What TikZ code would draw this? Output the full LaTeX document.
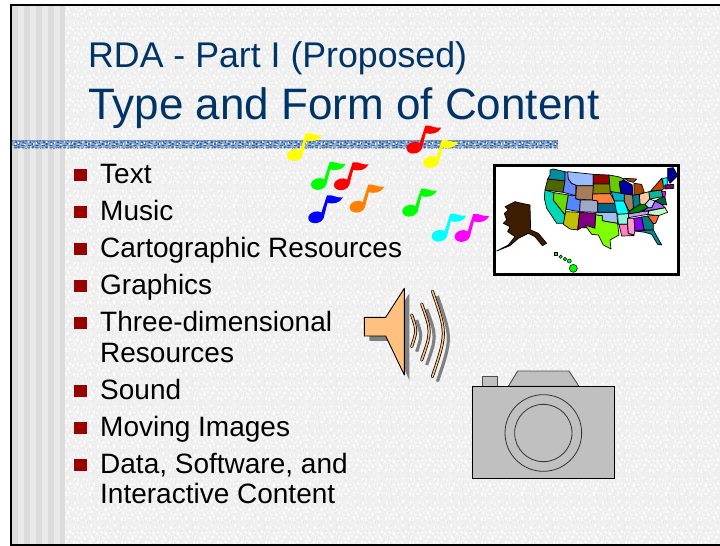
\documentclass[tikz,border=0pt]{standalone}
\usepackage{fontspec}
\setmainfont{Liberation Sans}
\usetikzlibrary{patterns}
\definecolor{titleblue}{HTML}{003366}
\definecolor{bulletred}{HTML}{990000}
\definecolor{pagegrey}{HTML}{F0F0F0}
\definecolor{stripedark}{HTML}{DCDCDC}
\definecolor{stripelight}{HTML}{E9E9E9}
\definecolor{speaker}{HTML}{FFC080}
\definecolor{camgrey}{HTML}{C0C0C0}
\definecolor{bandbase}{HTML}{8FACD0}
\definecolor{banddark}{HTML}{285A96}
\definecolor{noteyellow}{HTML}{FFFF00}
\definecolor{notered}{HTML}{FF0000}
\definecolor{notegreen}{HTML}{00FF00}
\definecolor{noteorange}{HTML}{FF8000}
\definecolor{noteblue}{HTML}{0000FF}
\definecolor{notecyan}{HTML}{00FFFF}
\definecolor{notemagenta}{HTML}{FF00FF}
\newcommand{\St}[2]{\definecolor{tmpc}{HTML}{#1}\draw[st=tmpc] #2 -- cycle;}
\pgfdeclarepatternformonly{specka}{\pgfpointorigin}{\pgfpoint{24pt}{24pt}}{\pgfpoint{24pt}{24pt}}{%
  \foreach \a/\b/\c/\d in {1/2/2/3,5/1/1/4,9/3/2/2,14/0/1/3,18/2/2/4,22/5/1/2,3/8/1/3,7/7/2/2,12/6/2/4,16/9/1/2,20/8/2/3,0/12/2/2,5/13/1/3,9/11/2/4,14/13/2/2,18/12/1/4,22/14/2/2,2/18/2/3,6/17/1/4,11/19/2/2,15/17/1/3,19/20/2/3}{%
    \pgfpathrectangle{\pgfpoint{\a pt}{\b pt}}{\pgfpoint{\c pt}{\d pt}}\pgfusepath{fill}}%
}
\pgfdeclarepatternformonly{speckb}{\pgfpointorigin}{\pgfpoint{18pt}{18pt}}{\pgfpoint{18pt}{18pt}}{%
  \foreach \a/\b/\c/\d in {3/0/1/2,8/2/1/1,13/1/1/3,0/6/1/2,6/5/2/1,11/7/1/2,16/5/1/2,3/11/1/2,9/12/1/1,14/10/1/3,1/15/2/1,7/15/1/2,12/16/1/1}{%
    \pgfpathrectangle{\pgfpoint{\a pt}{\b pt}}{\pgfpoint{\c pt}{\d pt}}\pgfusepath{fill}}%
}
\pgfdeclarepatternformonly{weave}{\pgfpointorigin}{\pgfpoint{14pt}{8pt}}{\pgfpoint{14pt}{8pt}}{%
  \foreach \a/\b/\c/\d in {0/0/3/1,4/1/2/2,8/0/3/1,11/2/2/1,1/3/2/2,5/4/3/1,9/3/2/2,12/5/2/1,0/6/3/1,4/6/2/2,8/6/3/1}{%
    \pgfpathrectangle{\pgfpoint{\a pt}{\b pt}}{\pgfpoint{\c pt}{\d pt}}\pgfusepath{fill}}%
}
\tikzset{
  bullettext/.style={anchor=base west,inner sep=0pt,font=\fontsize{28}{28}\selectfont,text=black},
  bulletbox/.style={anchor=center,inner sep=0pt,minimum size=12.5pt,fill=bulletred,draw=none},
  titleone/.style={anchor=base west,inner sep=0pt,text=titleblue,font=\fontsize{35.7}{36}\selectfont},
  titletwo/.style={anchor=base west,inner sep=0pt,text=titleblue,font=\fontsize{44}{44}\selectfont},
  st/.style={draw=black,line width=0.7pt,line join=round,fill=#1},
  musicnote/.pic={
    \fill[pic actions,rotate around={12:(0,0)}] (0,0) ellipse [x radius=7.8,y radius=5.8];
    \fill[pic actions] (4.5,-2) -- (11,-22) .. controls (17,-23) and (20,-19) .. (27,-20)
      .. controls (24,-14) and (17,-13) .. (11.5,-14.5) -- (7.5,1) -- cycle;
  }
}
\begin{document}
\begin{tikzpicture}[x=1pt,y=-1pt]
\useasboundingbox (0,0) rectangle (720,546);
\fill[white] (0,0) rectangle (720,546);
% page
\fill[pagegrey] (11,5) rectangle (720,545);
\fill[pattern=specka,pattern color=white] (65,5) rectangle (720,545);
\fill[pattern=speckb,pattern color=black!9] (65,5) rectangle (720,545);
% side stripes
\fill[stripelight] (12,6) rectangle (65,544);
\foreach \x/\xe in {12/18,24/30,36/42,48/54,60/65}{\fill[stripedark] (\x,6) rectangle (\xe,544);}
% weave band
\fill[bandbase] (12,140) rectangle (558,148);
\fill[pattern=weave,pattern color=banddark] (12,140) rectangle (558,148);
\fill[pattern=speckb,pattern color=white] (12,140) rectangle (558,148);
% frame
\draw[black,line width=2pt] (720,5) -- (11,5) -- (11,545) -- (720,545);
% titles
\node[titleone] (t1) at (88,67) {RDA - Part I (Proposed)};
\node[titletwo] (t2) at (88,119) {Type and Form of Content};
% bullets
\foreach \n/\y/\txt in {a/183/Text,b/220/Music,c/257/Cartographic Resources,d/294/Graphics,e/331/Three-dimensional,g/399/Sound,h/436/Moving Images,i/473/{Data, Software, and}}{
  \node[bulletbox] (box\n) at (80.5,\y-8) {};
  \node[bullettext] (item\n) at (100,\y) {\txt};
}
\node[bullettext] (itemf) at (100,362) {Resources};
\node[bullettext] (itemj) at (100,503) {Interactive Content};
% notes
\foreach \px/\py/\col in {294.7/155/noteyellow,414.3/147.7/notered,431/162/noteyellow,318.7/184/notegreen,341.7/184.3/notered,357.3/206.7/noteorange,316/217.3/noteblue,410/210.7/notegreen,439.3/235.7/notecyan,462.3/236/notemagenta}{
  \path[fill=\col] (\px,\py) pic {musicnote};
}
% map
\begin{scope}[shift={(485,155)},x=0.3333pt,y=-0.3333pt]
\draw[black,line width=3pt,fill=white] (29,32) rectangle (581,360);
\St{3D1D00}{(35,288)--(70,270)--(90,245)--(68,230)--(75,215)--(55,205)--(65,195)--(58,175)--(70,165)--(60,155)--(90,140)--(110,145)--(135,150)--(137,225)--(160,235)--(185,265)--(172,272)--(150,245)--(130,235)--(100,250)--(75,272)}
\St{00FF00}{(208,293)--(218,293)--(218,302)--(208,302)}
\foreach \hx/\hy/\hr in {265/340/12,253/318/6,240/312/5,227/305/5}{\draw[draw=black,line width=0.5pt,fill=notegreen] (\hx,\hy) circle [radius=\hr];}
\St{008CA0}{(195,45)--(205,42)--(240,50)--(240,78)--(188,72)--(195,60)}
\St{4D6600}{(188,72)--(240,78)--(234,112)--(180,105)}
\St{6688FF}{(240,50)--(250,52)--(250,72)--(260,85)--(272,90)--(272,122)--(234,112)--(240,78)}
\St{99BBFF}{(248,50)--(325,58)--(325,92)--(275,92)--(272,90)--(260,85)--(250,72)}
\St{990000}{(325,58)--(372,60)--(375,87)--(325,87)}
\St{808000}{(325,87)--(375,87)--(376,116)--(323,117)}
\St{66CC00}{(372,60)--(400,65)--(418,72)--(403,85)--(408,115)--(376,110)}
\St{A67C5B}{(275,92)--(325,92)--(322,135)--(272,132)}
\St{00D8B8}{(180,105)--(207,113)--(205,135)--(240,180)--(238,205)--(215,205)--(185,160)--(178,130)}
\St{66DD00}{(207,113)--(250,120)--(240,180)--(205,135)}
\St{5588FF}{(250,120)--(272,122)--(272,132)--(286,135)--(284,170)--(243,163)}
\St{A0A8C8}{(286,135)--(322,135)--(338,138)--(338,172)--(284,170)}
\St{C0C000}{(243,170)--(284,172)--(278,225)--(255,222)--(235,208)--(240,180)}
\St{800080}{(284,172)--(332,175)--(330,220)--(290,218)--(278,225)}
\St{A0C0F0}{(332,172)--(395,172)--(398,205)--(365,200)--(352,197)--(352,182)--(332,180)}
\St{80FF00}{(332,180)--(352,182)--(352,197)--(365,200)--(398,205)--(402,240)--(375,255)--(378,282)--(355,270)--(340,240)--(320,238)--(300,210)--(330,220)}
\St{006688}{(338,145)--(390,145)--(395,172)--(338,172)}
\St{FF8040}{(323,117)--(376,116)--(388,138)--(390,145)--(338,145)--(338,138)--(322,135)}
\St{00B0D0}{(378,110)--(408,115)--(418,116)--(420,138)--(388,138)}
\St{00FFFF}{(388,138)--(418,138)--(432,176)--(398,178)--(395,172)}
\St{80FFD8}{(398,178)--(432,176)--(430,188)--(427,208)--(400,208)}
\St{FF80C0}{(402,208)--(427,208)--(430,235)--(447,242)--(410,243)}
\St{FF99CC}{(427,190)--(447,190)--(450,228)--(447,240)--(430,235)}
\St{8800EE}{(447,190)--(470,186)--(478,225)--(450,228)}
\St{008080}{(470,186)--(488,183)--(505,206)--(505,225)--(478,225)}
\St{008899}{(450,228)--(505,225)--(530,270)--(518,268)--(500,238)--(480,232)}
\St{FF6633}{(488,183)--(520,180)--(522,182)--(512,205)--(505,206)}
\St{C0FFC0}{(488,178)--(492,168)--(540,158)--(548,172)--(520,182)}
\St{CC99FF}{(432,176)--(470,170)--(492,168)--(488,178)--(430,188)}
\St{008000}{(432,170)--(445,160)--(465,148)--(480,148)--(490,158)--(462,172)--(432,176)}
\St{AA66FF}{(470,170)--(490,158)--(500,158)--(510,138)--(530,148)--(540,158)}
\St{C0D8FF}{(480,148)--(494,132)--(510,138)--(500,158)--(490,158)}
\St{FFC8A0}{(463,118)--(492,110)--(494,132)--(480,148)--(465,148)}
\St{008090}{(443,120)--(463,118)--(465,148)--(445,160)}
\St{A08060}{(418,116)--(443,120)--(445,160)--(432,168)--(418,140)}
\St{0000A0}{(403,80)--(418,76)--(442,90)--(443,120)--(408,115)}
\St{AA4400}{(447,85)--(470,88)--(478,112)--(463,118)--(447,120)}
\St{AA4400}{(418,70)--(455,72)--(445,82)--(430,78)}
\St{00BB99}{(492,110)--(530,105)--(534,125)--(494,132)}
\St{CC4400}{(497,108)--(530,70)--(538,100)--(530,105)}
\St{FF00FF}{(530,108)--(542,110)--(540,127)--(534,125)}
\St{006040}{(510,138)--(534,125)--(540,127)--(545,150)--(530,148)}
\St{000090}{(548,40)--(565,38)--(578,62)--(555,85)--(548,70)}
\St{00FFFF}{(533,70)--(547,68)--(547,90)--(535,95)}
\St{800080}{(540,90)--(566,88)--(566,100)--(540,102)}
\end{scope}
% speaker
\begin{scope}[shift={(355,280)},x=0.3333pt,y=-0.3333pt]
\fill[black!50] (43,127)--(107,127)--(163,40)--(163,300)--(107,183)--(43,183)--cycle;
\foreach \ax/\ay/\bx/\by/\cx/\cy in {185/120/201/167/185/215,215/87/245/170/215/255,247/48/291/175/247/305}{
  \draw[black!50,line width=3.2pt] (\ax,\ay) .. controls (\bx,\by) and (\bx,\by) .. (\cx,\cy);
}
\draw[black,line width=0.9pt,fill=speaker,line join=round] (28,112)--(92,112)--(148,25)--(148,285)--(92,168)--(28,168)--cycle;
\foreach \ax/\ay/\bx/\by/\cx/\cy in {170/105/186/152/170/200,200/72/230/155/200/240,232/33/276/160/232/290}{
  \draw[black,line width=3pt,line cap=round] (\ax,\ay) .. controls (\bx,\by) and (\bx,\by) .. (\cx,\cy);
  \draw[speaker,line width=1.5pt,line cap=round] (\ax,\ay) .. controls (\bx,\by) and (\bx,\by) .. (\cx,\cy);
}
\end{scope}
% camera
\begin{scope}[shift={(465,365)},x=0.3333pt,y=-0.3333pt]
\draw[black!70,line width=0.9pt,fill=camgrey] (52,64)--(52,33)--(98,33)--(98,64)--cycle;
\draw[black!70,line width=0.9pt,fill=camgrey] (130,64)--(158,18)--(312,18)--(342,64)--cycle;
\draw[black,line width=1.2pt,fill=camgrey] (22,64) rectangle (448,340);
\draw[black!80,line width=0.8pt] (235,204) circle [radius=115];
\draw[black!80,line width=0.8pt] (235,204) circle [radius=86];
\end{scope}
\end{tikzpicture}
\end{document}
